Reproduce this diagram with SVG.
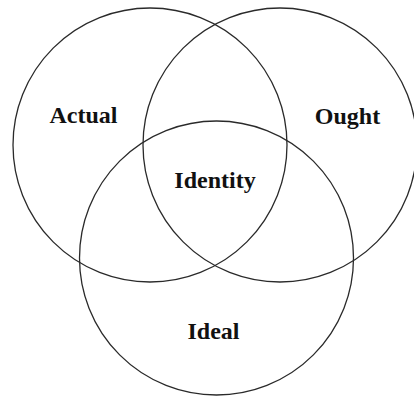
<svg xmlns="http://www.w3.org/2000/svg" width="414" height="396" viewBox="0 0 414 396">
<style>
.c{fill:none;stroke:#2a2a2a;stroke-width:1.3}
.t{font-family:"Liberation Serif","Times New Roman",serif;font-weight:bold;font-size:24px;fill:#111;text-anchor:middle}
</style>
<rect width="414" height="396" fill="#fff"/>
<g id="actual"><circle class="c" cx="150" cy="145" r="137"/><text class="t" x="83.5" y="123">Actual</text></g>
<g id="ought"><circle class="c" cx="280" cy="145" r="137"/><text class="t" x="347.5" y="124">Ought</text></g>
<g id="ideal"><circle class="c" cx="216.5" cy="258" r="137"/><text class="t" x="213.5" y="339">Ideal</text></g>
<g id="identity"><text class="t" x="215" y="188">Identity</text></g>
</svg>
